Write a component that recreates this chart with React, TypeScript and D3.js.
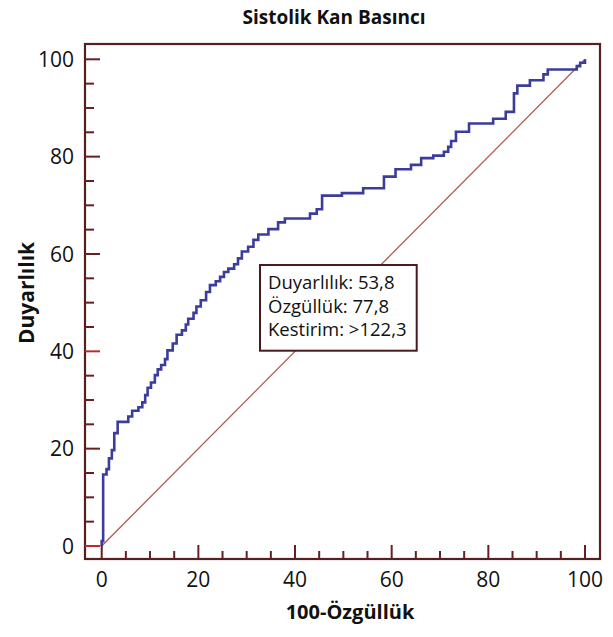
import React from "react";
import * as d3 from "d3";

const TITLE = "Sistolik Kan Basıncı";
const X_LABEL = "100-Özgüllük";
const Y_LABEL = "Duyarlılık";
const INFO_LINES = ["Duyarlılık: 53,8", "Özgüllük: 77,8", "Kestirim: >122,3"];
const MAJOR_TICKS = [0, 20, 40, 60, 80, 100];
const MINOR_TICKS = [5, 10, 15, 25, 30, 35, 45, 50, 55, 65, 70, 75, 85, 90, 95];

// ROC curve corner points: 100-Specificity (x) and Sensitivity (y)
const FPR = [0, 0, 0.3, 1.0, 1.5, 2.1, 2.6, 3.3, 5.5, 6.3, 7.6, 8.4, 9.0, 9.5, 10.2, 11.0, 11.6, 12.3, 13.1, 13.6, 14.7, 15.5, 16.6, 17.4, 17.9, 19.0, 19.6, 20.5, 21.6, 22.4, 23.6, 24.5, 25.3, 26.2, 27.4, 28.2, 29.0, 30.3, 31.4, 32.4, 34.5, 36.5, 37.9, 43.1, 44.5, 45.6, 49.7, 54.1, 58.4, 60.8, 64.0, 66.1, 68.6, 70.8, 71.7, 72.3, 73.3, 76.0, 81.0, 83.6, 85.3, 86.0, 88.6, 91.4, 92.3, 97.6, 98.3, 99.0, 100];
const TPR = [0, 1.0, 14.7, 15.8, 18.0, 19.7, 23.2, 25.5, 26.6, 27.8, 28.5, 29.5, 31.0, 32.5, 33.6, 35.1, 36.3, 37.2, 38.4, 40.2, 41.6, 43.4, 44.3, 45.5, 46.7, 47.9, 49.2, 50.5, 52.2, 53.6, 54.4, 55.3, 56.3, 57.0, 57.9, 59.1, 60.5, 61.5, 62.9, 64.0, 65.1, 66.5, 67.3, 68.3, 69.2, 72.0, 72.5, 73.5, 75.9, 77.4, 78.3, 79.7, 80.2, 81.0, 82.0, 83.2, 85.1, 86.8, 87.8, 89.2, 93.0, 94.6, 95.7, 96.9, 97.9, 97.9, 98.6, 99.3, 100];

const FONT = "'Open Sans', 'Noto Sans', sans-serif";

export default function App() {
  const W = 613, H = 637;
  const frame = { left: 85, top: 44, right: 600, bottom: 559 };
  const x = d3.scaleLinear().domain([0, 100]).range([101.7, 585]);
  const y = d3.scaleLinear().domain([0, 100]).range([546, 59.3]);

  const pts: [number, number][] = FPR.map((f, i) => [f, TPR[i]]);
  const rocLine = d3
    .line<[number, number]>()
    .x((d) => x(d[0]))
    .y((d) => y(d[1]))
    .curve(d3.curveStepAfter);
  const diag = d3
    .line<[number, number]>()
    .x((d) => x(d[0]))
    .y((d) => y(d[1]));

  const tickColor = "#6a1e22";
  const frameColor = "#55201f";

  return (
    <svg
      width={W}
      height={H}
      style={{ position: "absolute", left: 0, top: 0, background: "#fff" }}
    >
      <rect x={0} y={0} width={W} height={H} fill="#fff" />
      <text
        x={334}
        y={24}
        textAnchor="middle"
        fontFamily={FONT}
        fontWeight="bold"
        fontSize={19}
        fill="#111"
      >
        {TITLE}
      </text>

      {/* diagonal reference line */}
      <path
        d={diag([[0, 0], [100, 100]]) || ""}
        stroke="#b4574f"
        strokeWidth={1.3}
        fill="none"
      />

      {/* ROC curve */}
      <path
        d={rocLine(pts) || ""}
        stroke="#3c3c9c"
        strokeWidth={2.6}
        fill="none"
        strokeLinejoin="miter"
      />

      {/* frame */}
      <rect
        x={frame.left}
        y={frame.top}
        width={frame.right - frame.left}
        height={frame.bottom - frame.top}
        fill="none"
        stroke={frameColor}
        strokeWidth={2.2}
      />

      {/* bottom ticks */}
      {MAJOR_TICKS.map((t) => (
        <line
          key={"xm" + t}
          x1={x(t)}
          x2={x(t)}
          y1={frame.bottom}
          y2={frame.bottom - 14}
          stroke={tickColor}
          strokeWidth={2}
        />
      ))}
      {MINOR_TICKS.map((t) => (
        <line
          key={"xn" + t}
          x1={x(t)}
          x2={x(t)}
          y1={frame.bottom}
          y2={frame.bottom - 8}
          stroke={tickColor}
          strokeWidth={2}
        />
      ))}
      {/* left ticks */}
      {MAJOR_TICKS.map((t) => (
        <line
          key={"ym" + t}
          x1={frame.left}
          x2={frame.left + 15}
          y1={y(t)}
          y2={y(t)}
          stroke={t === 0 || t === 40 ? "#c0282c" : tickColor}
          strokeWidth={2}
        />
      ))}
      {MINOR_TICKS.map((t) => (
        <line
          key={"yn" + t}
          x1={frame.left}
          x2={frame.left + 9}
          y1={y(t)}
          y2={y(t)}
          stroke={tickColor}
          strokeWidth={2}
        />
      ))}

      {/* tick labels */}
      {MAJOR_TICKS.map((t) => (
        <text
          key={"xl" + t}
          x={x(t)}
          y={587}
          textAnchor="middle"
          fontFamily={FONT}
          fontSize={21}
          fill="#111"
        >
          {t}
        </text>
      ))}
      {MAJOR_TICKS.map((t) => (
        <text
          key={"yl" + t}
          x={74}
          y={y(t)}
          dy="0.36em"
          textAnchor="end"
          fontFamily={FONT}
          fontSize={21}
          fill="#111"
        >
          {t}
        </text>
      ))}

      {/* axis labels */}
      <text
        x={350}
        y={619}
        textAnchor="middle"
        fontFamily={FONT}
        fontWeight="bold"
        fontSize={20}
        fill="#111"
      >
        {X_LABEL}
      </text>
      <text
        transform="translate(34,293) rotate(-90)"
        textAnchor="middle"
        fontFamily={FONT}
        fontWeight="bold"
        fontSize={21}
        fill="#111"
      >
        {Y_LABEL}
      </text>

      {/* info box */}
      <rect
        x={260}
        y={265}
        width={156.7}
        height={85.7}
        fill="#fff"
        stroke="#4a1a1c"
        strokeWidth={2}
      />
      {INFO_LINES.map((s, i) => (
        <text
          key={s}
          x={268}
          y={289 + i * 23.5}
          fontFamily={FONT}
          fontSize={18.5}
          fill="#111"
        >
          {s}
        </text>
      ))}
    </svg>
  );
}
